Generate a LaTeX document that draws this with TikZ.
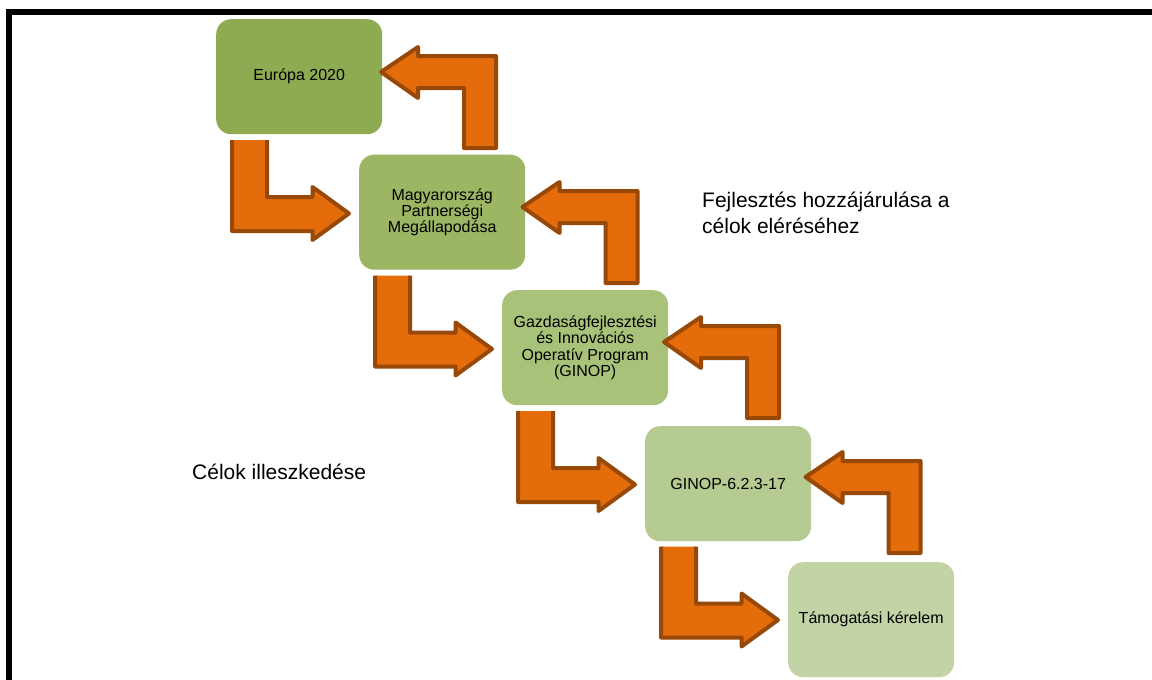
\documentclass[tikz,border=0pt]{standalone}
\usepackage{fontspec}
\setmainfont{Liberation Sans}
\definecolor{boxA}{RGB}{143,171,82}
\definecolor{boxB}{RGB}{156,182,100}
\definecolor{boxC}{RGB}{169,194,122}
\definecolor{boxD}{RGB}{182,203,145}
\definecolor{boxE}{RGB}{194,212,166}
\definecolor{arrowfill}{RGB}{228,108,10}
\definecolor{arrowedge}{RGB}{152,72,7}
\begin{document}
\begin{tikzpicture}[x=1pt,y=-1pt,
  box/.style={rounded corners=15pt, minimum width=166pt, minimum height=115pt,
    inner sep=0pt, align=center, font=\fontsize{16}{16.3}\selectfont,
    text=black, anchor=north west},
  freetext/.style={anchor=west, align=left, inner sep=0pt,
    font=\fontsize{21}{26}\selectfont, text=black},
  arrfill/.style={fill=arrowfill},
  arrline/.style={draw=arrowedge, line width=4pt, line join=round}
]
\useasboundingbox (0,0) rectangle (1152,680);
\fill[white] (0,0) rectangle (1152,680);
% frame
\draw[line width=6pt] (1160,12) -- (9,12) -- (9,690);

% boxes
\node[box, fill=boxA] (b1) at (216,19) {Európa 2020};
\node[box, fill=boxB] (b2) at (359,154.5) {Magyarország\\Partnerségi\\Megállapodása};
\node[box, fill=boxC] (b3) at (502,290) {Gazdaságfejlesztési\\és Innovációs\\Operatív Program\\(GINOP)};
\node[box, fill=boxD] (b4) at (645,426) {GINOP-6.2.3-17};
\node[box, fill=boxE] (b5) at (788,562) {Támogatási kérelem};

% free texts
\node[freetext] (t1) at (702,213) {Fejlesztés hozzájárulása a\\célok eléréséhez};
\node[freetext] (t2) at (192,472) {Célok illeszkedése};

% down-right arrows
\foreach \k in {0,1,2,3}{
  \begin{scope}[shift={(143*\k,135.5*\k)}]
    \fill[arrfill] (232,140) -- (232,231) -- (312.5,231) -- (312.5,240) -- (349,213.5)
      -- (312.5,187) -- (312.5,197) -- (267,197) -- (267,140) -- cycle;
    \draw[arrline] (232,140) -- (232,231) -- (312.5,231) -- (312.5,240) -- (349,213.5)
      -- (312.5,187) -- (312.5,197) -- (267,197) -- (267,140);
  \end{scope}
}

% up-left arrows
\foreach \k in {0,1,2,3}{
  \begin{scope}[shift={(141.5*\k,135*\k)}]
    \filldraw[arrfill, arrline] (381,72) -- (418,47) -- (418,56) -- (496,56) -- (496,148)
      -- (464,148) -- (464,88) -- (418,88) -- (418,98) -- cycle;
  \end{scope}
}
\end{tikzpicture}
\end{document}
